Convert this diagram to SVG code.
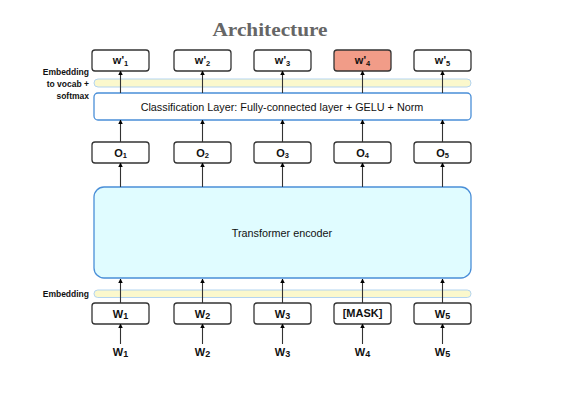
<svg xmlns="http://www.w3.org/2000/svg" width="562" height="405" viewBox="0 0 562 405">
<defs>
<marker id="ah" viewBox="0 0 10 10" refX="9" refY="5" markerWidth="4.5" markerHeight="4.5" orient="auto">
<path d="M0,0 L10,5 L0,10 z" fill="#000"/>
</marker>
<style>
.box{fill:#fff;stroke:#333;stroke-width:1.3}
.red{fill:#f19c88;stroke:#333;stroke-width:1.3}
.bar{fill:#fbf8cc;stroke:#b3d4f0;stroke-width:1}
.blue{fill:#fff;stroke:#4a8fd8;stroke-width:1.3}
.tr{fill:#e0fcff;stroke:#4a8fd8;stroke-width:1.3}
.t{font-family:"Liberation Sans",Arial,sans-serif;font-size:11px;font-weight:bold;fill:#111;text-anchor:middle}
.n{font-family:"Liberation Sans",Arial,sans-serif;font-size:10.8px;fill:#111;text-anchor:middle}
.l{font-family:"Liberation Sans",Arial,sans-serif;font-size:8.5px;font-weight:bold;fill:#111;text-anchor:end}
.c line{stroke:#333;stroke-width:1.1;marker-end:url(#ah)}
</style>
</defs>
<rect width="562" height="405" fill="#fff"/>
<text x="270" y="36" font-family="'Liberation Serif',Georgia,serif" font-size="18" font-weight="bold" fill="#666" text-anchor="middle" textLength="115" lengthAdjust="spacingAndGlyphs">Architecture</text>

<g id="labels">
<text class="l" x="89" y="75">Embedding</text>
<text class="l" x="89" y="87">to vocab +</text>
<text class="l" x="89" y="99">softmax</text>
<text class="l" x="89" y="297">Embedding</text>
</g>

<g id="bar-top"><rect class="bar" x="94" y="79" width="377" height="8" rx="4"/></g>
<g id="bar-bottom"><rect class="bar" x="94" y="290" width="377" height="7.5" rx="3.75"/></g>

<g id="classification"><rect class="blue" x="94" y="93" width="377" height="27" rx="4"/>
<text class="n" x="282" y="111">Classification Layer: Fully-connected layer + GELU + Norm</text></g>

<g id="transformer"><rect class="tr" x="94" y="187" width="377" height="91" rx="10"/>
<text class="n" x="282" y="237" font-size="11.3">Transformer encoder</text></g>

<g id="wp1"><rect class="box" x="92" y="50" width="57" height="21" rx="3"/><text class="t" x="120.5" y="64">w'<tspan font-size="7.5" dy="2">1</tspan></text></g>
<g id="wp2"><rect class="box" x="174" y="50" width="57" height="21" rx="3"/><text class="t" x="202.5" y="64">w'<tspan font-size="7.5" dy="2">2</tspan></text></g>
<g id="wp3"><rect class="box" x="254" y="50" width="57" height="21" rx="3"/><text class="t" x="282.5" y="64">w'<tspan font-size="7.5" dy="2">3</tspan></text></g>
<g id="wp4"><rect class="red" x="334" y="50" width="57" height="21" rx="3"/><text class="t" x="362.5" y="64">w'<tspan font-size="7.5" dy="2">4</tspan></text></g>
<g id="wp5"><rect class="box" x="414" y="50" width="57" height="21" rx="3"/><text class="t" x="442.5" y="64">w'<tspan font-size="7.5" dy="2">5</tspan></text></g>

<g id="o1"><rect class="box" x="92" y="142" width="57" height="21" rx="3"/><text class="t" x="120.5" y="156.5">O<tspan font-size="7.5" dy="1.5">1</tspan></text></g>
<g id="o2"><rect class="box" x="174" y="142" width="57" height="21" rx="3"/><text class="t" x="202.5" y="156.5">O<tspan font-size="7.5" dy="1.5">2</tspan></text></g>
<g id="o3"><rect class="box" x="254" y="142" width="57" height="21" rx="3"/><text class="t" x="282.5" y="156.5">O<tspan font-size="7.5" dy="1.5">3</tspan></text></g>
<g id="o4"><rect class="box" x="334" y="142" width="57" height="21" rx="3"/><text class="t" x="362.5" y="156.5">O<tspan font-size="7.5" dy="1.5">4</tspan></text></g>
<g id="o5"><rect class="box" x="414" y="142" width="57" height="21" rx="3"/><text class="t" x="442.5" y="156.5">O<tspan font-size="7.5" dy="1.5">5</tspan></text></g>

<g id="e1"><rect class="box" x="92" y="303" width="57" height="21" rx="3"/><text class="t" x="120.5" y="317.5">W<tspan font-size="9" dy="1">1</tspan></text></g>
<g id="e2"><rect class="box" x="174" y="303" width="57" height="21" rx="3"/><text class="t" x="202.5" y="317.5">W<tspan font-size="9" dy="1">2</tspan></text></g>
<g id="e3"><rect class="box" x="254" y="303" width="57" height="21" rx="3"/><text class="t" x="282.5" y="317.5">W<tspan font-size="9" dy="1">3</tspan></text></g>
<g id="e4"><rect class="box" x="334" y="303" width="57" height="21" rx="3"/><text class="t" x="362.5" y="317" font-size="9.5">[MASK]</text></g>
<g id="e5"><rect class="box" x="414" y="303" width="57" height="21" rx="3"/><text class="t" x="442.5" y="317.5">W<tspan font-size="9" dy="1">5</tspan></text></g>

<g id="inputs">
<text class="t" x="120.5" y="356">W<tspan font-size="9" dy="1">1</tspan></text>
<text class="t" x="202.5" y="356">W<tspan font-size="9" dy="1">2</tspan></text>
<text class="t" x="282.5" y="356">W<tspan font-size="9" dy="1">3</tspan></text>
<text class="t" x="362.5" y="356">W<tspan font-size="9" dy="1">4</tspan></text>
<text class="t" x="442.5" y="356">W<tspan font-size="9" dy="1">5</tspan></text>
</g>

<g id="connectors" class="c">
<line x1="120.5" y1="93" x2="120.5" y2="71"/>
<line x1="202.5" y1="93" x2="202.5" y2="71"/>
<line x1="282.5" y1="93" x2="282.5" y2="71"/>
<line x1="362.5" y1="93" x2="362.5" y2="71"/>
<line x1="442.5" y1="93" x2="442.5" y2="71"/>
<line x1="120.5" y1="142" x2="120.5" y2="120"/>
<line x1="202.5" y1="142" x2="202.5" y2="120"/>
<line x1="282.5" y1="142" x2="282.5" y2="120"/>
<line x1="362.5" y1="142" x2="362.5" y2="120"/>
<line x1="442.5" y1="142" x2="442.5" y2="120"/>
<line x1="120.5" y1="187" x2="120.5" y2="163"/>
<line x1="202.5" y1="187" x2="202.5" y2="163"/>
<line x1="282.5" y1="187" x2="282.5" y2="163"/>
<line x1="362.5" y1="187" x2="362.5" y2="163"/>
<line x1="442.5" y1="187" x2="442.5" y2="163"/>
<line x1="120.5" y1="303" x2="120.5" y2="279"/>
<line x1="202.5" y1="303" x2="202.5" y2="279"/>
<line x1="282.5" y1="303" x2="282.5" y2="279"/>
<line x1="362.5" y1="303" x2="362.5" y2="279"/>
<line x1="442.5" y1="303" x2="442.5" y2="279"/>
<line x1="120.5" y1="344" x2="120.5" y2="324"/>
<line x1="202.5" y1="344" x2="202.5" y2="324"/>
<line x1="282.5" y1="344" x2="282.5" y2="324"/>
<line x1="362.5" y1="344" x2="362.5" y2="324"/>
<line x1="442.5" y1="344" x2="442.5" y2="324"/>
</g>
</svg>
